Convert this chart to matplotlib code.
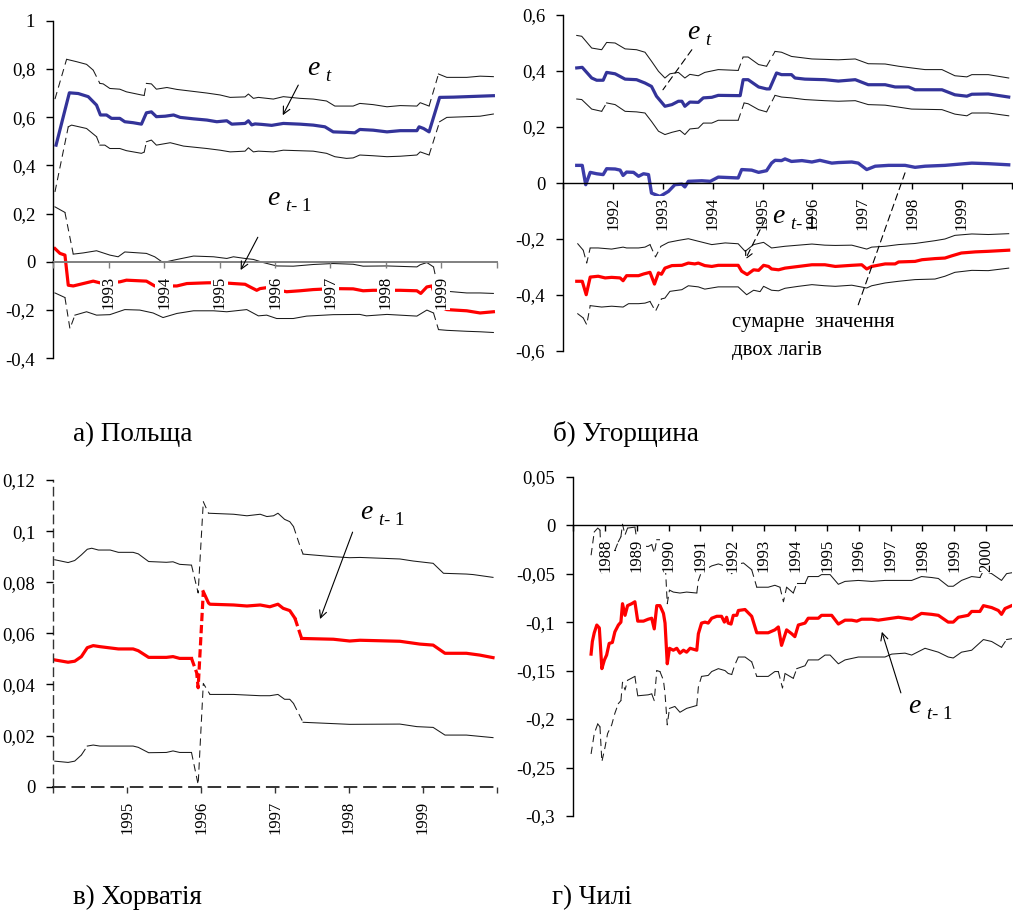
import matplotlib
matplotlib.use('Agg')
import matplotlib.pyplot as plt

plt.rcParams['font.family'] = ['Liberation Serif', 'DejaVu Serif']
plt.rcParams['mathtext.fontset'] = 'custom'
plt.rcParams['mathtext.it'] = 'Liberation Serif:italic'
plt.rcParams['mathtext.rm'] = 'Liberation Serif'

W, H, DPI = 1013, 910, 100

# ---------------- data: (decimal year, value) ----------------
# а) Польща
a_et = [(1992.05, 0.484), (1992.21, 0.629), (1992.29, 0.701), (1992.45, 0.698), (1992.63, 0.685),
        (1992.78, 0.650), (1992.85, 0.609), (1992.96, 0.609), (1993.05, 0.595), (1993.20, 0.595),
        (1993.29, 0.581), (1993.44, 0.577), (1993.59, 0.571), (1993.68, 0.618), (1993.77, 0.622),
        (1993.86, 0.602), (1994.02, 0.604), (1994.17, 0.609), (1994.29, 0.599), (1994.53, 0.593),
        (1994.77, 0.588), (1994.95, 0.581), (1995.13, 0.585), (1995.22, 0.571), (1995.46, 0.574),
        (1995.52, 0.585), (1995.58, 0.568), (1995.64, 0.572), (1995.76, 0.570), (1995.94, 0.566),
        (1996.15, 0.574), (1996.45, 0.571), (1996.69, 0.567), (1996.90, 0.560), (1997.05, 0.539),
        (1997.29, 0.537), (1997.44, 0.535), (1997.53, 0.549), (1997.77, 0.546), (1998.02, 0.539),
        (1998.26, 0.544), (1998.56, 0.544), (1998.60, 0.560), (1998.68, 0.553), (1998.78, 0.539),
        (1998.97, 0.682), (1999.22, 0.683), (1999.46, 0.685), (1999.70, 0.687), (1999.94, 0.689)]
a_et_up = [(1992.03, 0.675), (1992.24, 0.840), (1992.42, 0.830), (1992.60, 0.819), (1992.72, 0.795),
           (1992.84, 0.740), (1992.90, 0.738), (1993.02, 0.719), (1993.20, 0.716), (1993.32, 0.705),
           (1993.59, 0.692), (1993.64, 0.690), (1993.68, 0.740), (1993.77, 0.738), (1993.86, 0.716),
           (1994.05, 0.723), (1994.23, 0.715), (1994.41, 0.710), (1994.77, 0.700), (1995.01, 0.692),
           (1995.19, 0.682), (1995.46, 0.684), (1995.52, 0.696), (1995.61, 0.678), (1995.70, 0.682),
           (1995.97, 0.675), (1996.15, 0.685), (1996.45, 0.678), (1996.69, 0.675), (1996.93, 0.667),
           (1997.08, 0.646), (1997.41, 0.646), (1997.53, 0.657), (1997.77, 0.652), (1998.02, 0.643),
           (1998.26, 0.648), (1998.56, 0.646), (1998.62, 0.660), (1998.78, 0.646), (1998.95, 0.779),
           (1999.10, 0.765), (1999.46, 0.765), (1999.70, 0.770), (1999.94, 0.768)]
a_et_lo = [(1992.03, 0.290), (1992.27, 0.560), (1992.33, 0.567), (1992.60, 0.553), (1992.78, 0.519),
           (1992.84, 0.484), (1992.93, 0.484), (1993.02, 0.470), (1993.20, 0.470), (1993.32, 0.461),
           (1993.59, 0.450), (1993.64, 0.455), (1993.68, 0.498), (1993.77, 0.505), (1993.86, 0.484),
           (1994.11, 0.494), (1994.35, 0.480), (1994.77, 0.470), (1995.01, 0.463), (1995.19, 0.456),
           (1995.46, 0.459), (1995.52, 0.473), (1995.61, 0.456), (1995.70, 0.459), (1995.97, 0.456),
           (1996.15, 0.463), (1996.69, 0.459), (1996.93, 0.450), (1997.08, 0.436), (1997.29, 0.429),
           (1997.41, 0.431), (1997.53, 0.443), (1997.77, 0.440), (1998.02, 0.436), (1998.26, 0.438),
           (1998.56, 0.443), (1998.62, 0.456), (1998.78, 0.443), (1998.97, 0.581), (1999.10, 0.599),
           (1999.46, 0.602), (1999.70, 0.604), (1999.94, 0.613)]
a_et1 = [(1992.03, 0.055), (1992.12, 0.035), (1992.21, 0.028), (1992.27, -0.097), (1992.36, -0.100),
         (1992.54, -0.090), (1992.72, -0.080), (1992.84, -0.087), (1993.20, -0.083), (1993.32, -0.076),
         (1993.68, -0.080), (1993.83, -0.100), (1994.23, -0.100), (1994.41, -0.090), (1994.77, -0.087),
         (1995.01, -0.086), (1995.25, -0.090), (1995.46, -0.093), (1995.55, -0.104), (1995.67, -0.118),
         (1995.73, -0.111), (1995.85, -0.107), (1996.21, -0.124), (1996.45, -0.120), (1996.69, -0.115),
         (1997.05, -0.111), (1997.41, -0.112), (1997.59, -0.120), (1997.77, -0.118), (1998.26, -0.118),
         (1998.56, -0.120), (1998.63, -0.131), (1998.74, -0.104), (1998.83, -0.100), (1998.95, -0.184),
         (1999.10, -0.198), (1999.46, -0.203), (1999.70, -0.212), (1999.94, -0.207)]
a_et1_up = [(1992.03, 0.228), (1992.21, 0.205), (1992.36, 0.032), (1992.54, 0.037), (1992.78, 0.046),
            (1993.02, 0.028), (1993.17, 0.021), (1993.29, 0.041), (1993.68, 0.035), (1993.83, 0.021),
            (1993.98, -0.003), (1994.17, 0.007), (1994.53, 0.024), (1994.89, 0.021), (1995.13, 0.014),
            (1995.25, 0.021), (1995.46, 0.014), (1995.61, 0.010), (1995.79, -0.003), (1996.03, -0.017),
            (1996.33, -0.018), (1996.69, -0.011), (1997.05, -0.007), (1997.41, -0.010), (1997.59, -0.018),
            (1998.02, -0.017), (1998.56, -0.021), (1998.62, -0.012), (1998.74, -0.003), (1998.86, -0.021),
            (1998.95, -0.118), (1999.10, -0.122), (1999.46, -0.129), (1999.70, -0.129), (1999.94, -0.131)]
a_et1_lo = [(1992.03, -0.129), (1992.21, -0.148), (1992.30, -0.277), (1992.39, -0.221), (1992.60, -0.207),
            (1992.78, -0.221), (1993.02, -0.219), (1993.29, -0.198), (1993.56, -0.200), (1993.80, -0.212),
            (1993.98, -0.231), (1994.23, -0.214), (1994.53, -0.203), (1994.89, -0.203), (1995.13, -0.207),
            (1995.49, -0.198), (1995.70, -0.224), (1995.85, -0.221), (1996.03, -0.235), (1996.33, -0.235),
            (1996.57, -0.225), (1997.05, -0.219), (1997.53, -0.218), (1997.65, -0.224), (1998.02, -0.218),
            (1998.56, -0.225), (1998.74, -0.200), (1998.86, -0.212), (1998.95, -0.281), (1999.10, -0.284),
            (1999.46, -0.288), (1999.70, -0.290), (1999.94, -0.293)]

# б) Угорщина
b_et = [(1991.27, 0.411), (1991.38, 0.413), (1991.57, 0.375), (1991.67, 0.367), (1991.80, 0.367),
        (1991.87, 0.395), (1992.04, 0.390), (1992.24, 0.371), (1992.47, 0.369), (1992.64, 0.357),
        (1992.77, 0.345), (1992.87, 0.310), (1993.04, 0.274), (1993.18, 0.280), (1993.31, 0.292),
        (1993.38, 0.292), (1993.44, 0.274), (1993.54, 0.289), (1993.71, 0.288), (1993.81, 0.304),
        (1993.98, 0.306), (1994.11, 0.313), (1994.55, 0.312), (1994.61, 0.369), (1994.71, 0.369),
        (1994.92, 0.343), (1995.08, 0.336), (1995.14, 0.336), (1995.28, 0.393), (1995.38, 0.387),
        (1995.58, 0.387), (1995.65, 0.375), (1995.85, 0.371), (1996.25, 0.369), (1996.52, 0.364),
        (1996.86, 0.369), (1997.12, 0.351), (1997.46, 0.351), (1997.66, 0.343), (1997.93, 0.343),
        (1998.06, 0.333), (1998.60, 0.333), (1998.86, 0.315), (1999.10, 0.310), (1999.20, 0.317),
        (1999.53, 0.318), (1999.94, 0.307)]
b_et_up = [(1991.27, 0.527), (1991.37, 0.524), (1991.57, 0.482), (1991.77, 0.476), (1991.87, 0.502),
           (1992.04, 0.500), (1992.24, 0.479), (1992.47, 0.476), (1992.64, 0.467), (1992.77, 0.435),
           (1992.91, 0.399), (1993.04, 0.375), (1993.14, 0.390), (1993.31, 0.395), (1993.44, 0.375),
           (1993.54, 0.388), (1993.71, 0.383), (1993.84, 0.395), (1994.11, 0.405), (1994.51, 0.402),
           (1994.61, 0.450), (1994.71, 0.450), (1994.92, 0.423), (1995.08, 0.417), (1995.25, 0.470),
           (1995.38, 0.467), (1995.58, 0.452), (1995.99, 0.443), (1996.52, 0.440), (1996.86, 0.443),
           (1997.12, 0.426), (1997.46, 0.425), (1997.73, 0.417), (1997.99, 0.411), (1998.26, 0.405),
           (1998.60, 0.405), (1998.86, 0.383), (1999.10, 0.379), (1999.20, 0.387), (1999.53, 0.387),
           (1999.94, 0.375)]
b_et_lo = [(1991.27, 0.300), (1991.37, 0.298), (1991.57, 0.264), (1991.77, 0.256), (1991.87, 0.286),
           (1992.04, 0.280), (1992.24, 0.256), (1992.47, 0.254), (1992.64, 0.250), (1992.77, 0.220),
           (1992.91, 0.185), (1993.04, 0.173), (1993.18, 0.181), (1993.34, 0.188), (1993.44, 0.173),
           (1993.54, 0.193), (1993.71, 0.196), (1993.81, 0.214), (1993.98, 0.214), (1994.11, 0.224),
           (1994.51, 0.224), (1994.63, 0.286), (1994.71, 0.283), (1994.92, 0.262), (1995.08, 0.254),
           (1995.25, 0.313), (1995.38, 0.307), (1995.58, 0.304), (1995.85, 0.298), (1996.25, 0.294),
           (1996.52, 0.292), (1996.86, 0.294), (1997.12, 0.280), (1997.46, 0.278), (1997.73, 0.271),
           (1997.99, 0.264), (1998.60, 0.262), (1998.86, 0.246), (1999.10, 0.240), (1999.20, 0.250),
           (1999.53, 0.250), (1999.94, 0.240)]
b_sum = [(1991.27, 0.063), (1991.38, 0.063), (1991.45, -0.006), (1991.54, 0.038), (1991.67, 0.033),
         (1991.80, 0.030), (1991.87, 0.051), (1992.04, 0.050), (1992.14, 0.046), (1992.20, 0.027),
         (1992.27, 0.039), (1992.41, 0.038), (1992.51, 0.024), (1992.61, 0.033), (1992.71, 0.030),
         (1992.77, -0.036), (1992.94, -0.048), (1993.11, -0.030), (1993.24, -0.006), (1993.38, -0.004),
         (1993.44, -0.014), (1993.51, 0.006), (1993.78, 0.008), (1993.95, 0.006), (1994.11, 0.021),
         (1994.51, 0.018), (1994.58, 0.048), (1994.78, 0.046), (1994.92, 0.038), (1995.08, 0.044),
         (1995.18, 0.071), (1995.25, 0.081), (1995.38, 0.080), (1995.45, 0.086), (1995.58, 0.077),
         (1995.79, 0.080), (1995.99, 0.075), (1996.15, 0.081), (1996.39, 0.071), (1996.52, 0.073),
         (1996.79, 0.075), (1996.92, 0.071), (1997.09, 0.048), (1997.26, 0.060), (1997.53, 0.063),
         (1997.86, 0.063), (1998.06, 0.056), (1998.26, 0.060), (1998.66, 0.063), (1998.99, 0.068),
         (1999.20, 0.071), (1999.53, 0.069), (1999.94, 0.065)]
b_et1 = [(1991.27, -0.351), (1991.38, -0.351), (1991.46, -0.399), (1991.54, -0.336), (1991.70, -0.333),
         (1991.84, -0.339), (1991.97, -0.337), (1992.14, -0.339), (1992.20, -0.349), (1992.27, -0.331),
         (1992.51, -0.331), (1992.61, -0.325), (1992.74, -0.319), (1992.83, -0.361), (1992.91, -0.321),
         (1992.97, -0.326), (1993.04, -0.304), (1993.18, -0.295), (1993.38, -0.294), (1993.51, -0.286),
         (1993.64, -0.289), (1993.71, -0.286), (1993.84, -0.295), (1993.98, -0.298), (1994.11, -0.294),
         (1994.51, -0.294), (1994.58, -0.315), (1994.69, -0.327), (1994.82, -0.310), (1994.92, -0.312),
         (1995.02, -0.294), (1995.12, -0.298), (1995.18, -0.307), (1995.32, -0.310), (1995.45, -0.304),
         (1995.72, -0.298), (1995.99, -0.292), (1996.25, -0.292), (1996.46, -0.298), (1996.79, -0.294),
         (1996.99, -0.292), (1997.09, -0.307), (1997.19, -0.298), (1997.46, -0.289), (1997.66, -0.289),
         (1997.73, -0.282), (1998.06, -0.280), (1998.20, -0.274), (1998.46, -0.270), (1998.66, -0.268),
         (1998.80, -0.260), (1998.99, -0.250), (1999.27, -0.246), (1999.53, -0.244), (1999.94, -0.240)]
b_et1_up = [(1991.29, -0.217), (1991.40, -0.240), (1991.47, -0.286), (1991.54, -0.232), (1991.70, -0.232),
            (1991.97, -0.236), (1992.20, -0.229), (1992.27, -0.232), (1992.51, -0.232), (1992.64, -0.229),
            (1992.74, -0.220), (1992.85, -0.264), (1992.96, -0.226), (1993.11, -0.212), (1993.31, -0.205),
            (1993.51, -0.199), (1993.71, -0.208), (1993.98, -0.220), (1994.25, -0.214), (1994.51, -0.217),
            (1994.65, -0.244), (1994.82, -0.220), (1995.02, -0.212), (1995.18, -0.232), (1995.45, -0.226),
            (1995.72, -0.222), (1995.99, -0.218), (1996.25, -0.222), (1996.46, -0.223), (1996.79, -0.222),
            (1997.09, -0.236), (1997.19, -0.229), (1997.46, -0.226), (1997.73, -0.220), (1998.06, -0.216),
            (1998.46, -0.206), (1998.66, -0.200), (1998.86, -0.187), (1999.20, -0.182), (1999.53, -0.184),
            (1999.94, -0.181)]
b_et1_lo = [(1991.29, -0.467), (1991.40, -0.482), (1991.47, -0.506), (1991.54, -0.438), (1991.77, -0.443),
            (1991.97, -0.440), (1992.20, -0.443), (1992.31, -0.431), (1992.51, -0.431), (1992.64, -0.429),
            (1992.74, -0.423), (1992.85, -0.458), (1992.97, -0.414), (1993.04, -0.411), (1993.14, -0.387),
            (1993.38, -0.381), (1993.51, -0.367), (1993.71, -0.371), (1993.84, -0.379), (1994.11, -0.371),
            (1994.51, -0.371), (1994.68, -0.399), (1994.82, -0.383), (1994.95, -0.388), (1995.02, -0.369),
            (1995.18, -0.383), (1995.32, -0.385), (1995.45, -0.376), (1995.72, -0.369), (1995.99, -0.363),
            (1996.25, -0.367), (1996.46, -0.369), (1996.79, -0.365), (1997.09, -0.375), (1997.19, -0.367),
            (1997.46, -0.357), (1997.73, -0.351), (1998.06, -0.345), (1998.46, -0.343), (1998.66, -0.333),
            (1998.86, -0.319), (1999.20, -0.312), (1999.53, -0.313), (1999.94, -0.304)]

# в) Хорватія
c_et1 = [(1994.02, 0.0496), (1994.20, 0.0487), (1994.29, 0.0491), (1994.38, 0.0509), (1994.46, 0.0544),
         (1994.54, 0.0552), (1994.63, 0.0548), (1994.88, 0.0539), (1995.08, 0.0539), (1995.15, 0.0532),
         (1995.29, 0.0506), (1995.53, 0.0506), (1995.62, 0.0509), (1995.71, 0.0502), (1995.87, 0.0502),
         (1995.94, 0.0446), (1995.96, 0.0387), (1996.03, 0.0763), (1996.10, 0.0719), (1996.12, 0.0714),
         (1996.44, 0.0711), (1996.62, 0.0707), (1996.80, 0.0711), (1996.93, 0.0704), (1997.04, 0.0714),
         (1997.11, 0.0698), (1997.20, 0.0689), (1997.27, 0.0659), (1997.36, 0.0580), (1997.79, 0.0577),
         (1998.01, 0.0570), (1998.15, 0.0573), (1998.69, 0.0569), (1998.96, 0.0558), (1999.14, 0.0554),
         (1999.30, 0.0522), (1999.59, 0.0522), (1999.77, 0.0515), (1999.95, 0.0505)]
c_et1_up = [(1994.02, 0.0888), (1994.20, 0.0877), (1994.29, 0.0885), (1994.38, 0.0907), (1994.46, 0.0929),
            (1994.52, 0.0933), (1994.61, 0.0926), (1994.77, 0.0926), (1994.88, 0.0917), (1995.08, 0.0917),
            (1995.15, 0.0911), (1995.29, 0.0881), (1995.53, 0.0878), (1995.62, 0.0880), (1995.71, 0.0870),
            (1995.87, 0.0867), (1995.96, 0.0758), (1996.03, 0.1115), (1996.10, 0.1070), (1996.44, 0.1066),
            (1996.62, 0.1060), (1996.80, 0.1066), (1996.89, 0.1057), (1996.98, 0.1060), (1997.04, 0.1070),
            (1997.13, 0.1046), (1997.20, 0.1037), (1997.25, 0.1018), (1997.34, 0.0940), (1997.38, 0.0910),
            (1997.79, 0.0900), (1998.01, 0.0896), (1998.15, 0.0897), (1998.69, 0.0891), (1998.87, 0.0883),
            (1999.14, 0.0874), (1999.28, 0.0835), (1999.59, 0.0832), (1999.68, 0.0830), (1999.95, 0.0819)]
c_et1_lo = [(1994.02, 0.0100), (1994.20, 0.0095), (1994.29, 0.0100), (1994.38, 0.0124), (1994.46, 0.0159),
            (1994.54, 0.0163), (1994.63, 0.0159), (1994.88, 0.0159), (1995.08, 0.0159), (1995.15, 0.0154),
            (1995.29, 0.0133), (1995.53, 0.0134), (1995.62, 0.0140), (1995.71, 0.0134), (1995.87, 0.0134),
            (1995.96, 0.0008), (1996.03, 0.0404), (1996.12, 0.0361), (1996.44, 0.0361), (1996.80, 0.0356),
            (1996.93, 0.0356), (1997.04, 0.0361), (1997.13, 0.0342), (1997.20, 0.0342), (1997.25, 0.0326),
            (1997.33, 0.0280), (1997.38, 0.0252), (1998.01, 0.0244), (1998.69, 0.0245), (1998.92, 0.0235),
            (1999.14, 0.0232), (1999.30, 0.0202), (1999.59, 0.0202), (1999.95, 0.0192)]

# г) Чилі
d_et1 = [(1987.56, -0.133), (1987.60, -0.120), (1987.66, -0.111), (1987.74, -0.103), (1987.82, -0.106),
         (1987.90, -0.148), (1987.98, -0.139), (1988.05, -0.134), (1988.13, -0.122), (1988.23, -0.121),
         (1988.31, -0.110), (1988.42, -0.103), (1988.50, -0.100), (1988.55, -0.081), (1988.63, -0.093),
         (1988.71, -0.083), (1988.84, -0.081), (1988.94, -0.079), (1989.03, -0.099), (1989.21, -0.099),
         (1989.36, -0.097), (1989.47, -0.096), (1989.55, -0.107), (1989.63, -0.083), (1989.73, -0.083),
         (1989.84, -0.091), (1989.89, -0.101), (1989.96, -0.143), (1990.03, -0.127), (1990.15, -0.129),
         (1990.26, -0.127), (1990.36, -0.132), (1990.47, -0.129), (1990.57, -0.131), (1990.68, -0.127),
         (1990.89, -0.129), (1990.94, -0.112), (1991.04, -0.101), (1991.15, -0.100), (1991.25, -0.101),
         (1991.36, -0.096), (1991.52, -0.094), (1991.67, -0.094), (1991.76, -0.100), (1991.83, -0.095),
         (1991.88, -0.101), (1991.97, -0.102), (1992.04, -0.093), (1992.15, -0.093), (1992.20, -0.088),
         (1992.41, -0.087), (1992.62, -0.094), (1992.78, -0.111), (1992.93, -0.111), (1993.14, -0.111),
         (1993.35, -0.108), (1993.46, -0.105), (1993.56, -0.124), (1993.72, -0.108), (1993.88, -0.112),
         (1993.98, -0.115), (1994.09, -0.103), (1994.30, -0.101), (1994.40, -0.096), (1994.72, -0.096),
         (1994.82, -0.093), (1995.14, -0.093), (1995.35, -0.102), (1995.56, -0.098), (1995.77, -0.098),
         (1995.93, -0.099), (1996.08, -0.097), (1996.40, -0.097), (1996.61, -0.098), (1997.03, -0.096),
         (1997.24, -0.095), (1997.45, -0.096), (1997.66, -0.097), (1997.97, -0.091), (1998.29, -0.092),
         (1998.50, -0.093), (1998.81, -0.100), (1998.97, -0.100), (1999.13, -0.095), (1999.44, -0.093),
         (1999.55, -0.089), (1999.81, -0.089), (1999.92, -0.083), (2000.18, -0.085), (2000.39, -0.088),
         (2000.49, -0.092), (2000.60, -0.086), (2000.81, -0.083)]
d_et1_up = [(1987.56, -0.031), (1987.66, -0.007), (1987.77, -0.003), (1987.84, -0.005), (1987.90, -0.050),
            (1988.00, -0.036), (1988.10, -0.026), (1988.31, -0.026), (1988.42, -0.017), (1988.50, -0.012),
            (1988.55, 0.001), (1988.63, -0.010), (1988.71, -0.003), (1988.94, -0.002), (1989.03, -0.021),
            (1989.36, -0.022), (1989.47, -0.020), (1989.55, -0.029), (1989.63, -0.015), (1989.73, -0.015),
            (1989.84, -0.019), (1989.89, -0.036), (1989.96, -0.081), (1990.03, -0.067), (1990.15, -0.069),
            (1990.36, -0.070), (1990.57, -0.069), (1990.89, -0.070), (1990.94, -0.057), (1991.04, -0.048),
            (1991.15, -0.046), (1991.36, -0.042), (1991.57, -0.040), (1991.67, -0.041), (1991.83, -0.043),
            (1991.99, -0.050), (1992.09, -0.043), (1992.20, -0.040), (1992.36, -0.039), (1992.62, -0.046),
            (1992.78, -0.064), (1993.14, -0.064), (1993.35, -0.062), (1993.51, -0.064), (1993.62, -0.079),
            (1993.72, -0.064), (1993.93, -0.070), (1994.04, -0.060), (1994.30, -0.060), (1994.40, -0.053),
            (1994.72, -0.053), (1994.82, -0.051), (1995.09, -0.051), (1995.35, -0.061), (1995.56, -0.058),
            (1995.98, -0.057), (1996.40, -0.058), (1996.82, -0.057), (1997.24, -0.057), (1997.66, -0.057),
            (1997.97, -0.053), (1998.29, -0.054), (1998.50, -0.055), (1998.81, -0.063), (1998.97, -0.063),
            (1999.23, -0.057), (1999.55, -0.053), (1999.81, -0.054), (1999.92, -0.047), (2000.18, -0.050),
            (2000.49, -0.057), (2000.65, -0.050), (2000.83, -0.049)]
d_et1_lo = [(1987.56, -0.236), (1987.66, -0.215), (1987.77, -0.205), (1987.84, -0.208), (1987.90, -0.244),
            (1988.00, -0.229), (1988.08, -0.215), (1988.21, -0.206), (1988.31, -0.194), (1988.42, -0.184),
            (1988.50, -0.181), (1988.55, -0.162), (1988.63, -0.170), (1988.71, -0.160), (1988.94, -0.156),
            (1989.03, -0.176), (1989.36, -0.175), (1989.47, -0.174), (1989.55, -0.181), (1989.63, -0.150),
            (1989.73, -0.151), (1989.84, -0.160), (1989.89, -0.174), (1989.96, -0.206), (1990.03, -0.189),
            (1990.20, -0.187), (1990.36, -0.193), (1990.57, -0.189), (1990.89, -0.186), (1990.94, -0.167),
            (1991.04, -0.156), (1991.25, -0.155), (1991.36, -0.151), (1991.57, -0.148), (1991.78, -0.150),
            (1991.88, -0.153), (1991.99, -0.154), (1992.09, -0.144), (1992.20, -0.136), (1992.41, -0.136),
            (1992.62, -0.141), (1992.78, -0.156), (1993.14, -0.156), (1993.35, -0.151), (1993.46, -0.151),
            (1993.59, -0.168), (1993.67, -0.153), (1993.93, -0.158), (1994.04, -0.148), (1994.30, -0.145),
            (1994.40, -0.139), (1994.72, -0.139), (1994.93, -0.134), (1995.09, -0.134), (1995.35, -0.143),
            (1995.56, -0.139), (1995.98, -0.136), (1996.40, -0.136), (1996.82, -0.136), (1997.03, -0.133),
            (1997.45, -0.132), (1997.66, -0.134), (1998.08, -0.127), (1998.50, -0.131), (1998.81, -0.136),
            (1998.97, -0.137), (1999.23, -0.131), (1999.55, -0.129), (1999.92, -0.118), (2000.18, -0.120),
            (2000.49, -0.126), (2000.65, -0.118), (2000.83, -0.117)]

# ---------------- ticks & labels ----------------
a_years = list(range(1992, 2001))
a_year_labels = [''] + [str(y) for y in range(1993, 2000)] + ['']
a_yticks = [1.0, 0.8, 0.6, 0.4, 0.2, 0.0, -0.2, -0.4]
a_ylabels = ['1', '0,8', '0,6', '0,4', '0,2', '0', '-0,2', '-0,4']

b_years = list(range(1991, 2001))
b_year_labels = [''] + [str(y) for y in range(1992, 2000)] + ['']
b_yticks = [0.6, 0.4, 0.2, 0.0, -0.2, -0.4, -0.6]
b_ylabels = ['0,6', '0,4', '0,2', '0', '-0,2', '-0,4', '-0,6']

c_years = list(range(1994, 2001))
c_year_labels = [''] + [str(y) for y in range(1995, 2000)] + ['']
c_yticks = [0.12, 0.10, 0.08, 0.06, 0.04, 0.02, 0.0]
c_ylabels = ['0,12', '0,1', '0,08', '0,06', '0,04', '0,02', '0']

d_years = list(range(1987, 2001))
d_year_labels = [''] + [str(y) for y in range(1988, 2001)]
d_yticks = [0.05, 0.0, -0.05, -0.10, -0.15, -0.20, -0.25, -0.30]
d_ylabels = ['0,05', '0', '-0,05', '-0,1', '-0,15', '-0,2', '-0,25', '-0,3']

captions = ['а) Польща', 'б) Угорщина', 'в) Хорватія', 'г) Чилі']

# ---------------- styling ----------------
BLUE = '#333399'
SUMBLUE = '#3b3ba8'
RED = '#ff0000'
BLK = '#1a1a1a'
THIN = 0.75
THICK = 2.3

fig = plt.figure(figsize=(W / DPI, H / DPI), dpi=DPI)
fig.patch.set_facecolor('white')


def make_axes(l, t, r, b, xlim, ylim):
    ax = fig.add_axes([l / W, 1 - b / H, (r - l) / W, (b - t) / H])
    ax.set_xlim(*xlim)
    ax.set_ylim(*ylim)
    ax.patch.set_alpha(0)
    ax.spines['top'].set_visible(False)
    ax.spines['right'].set_visible(False)
    ax.set_axisbelow(False)
    return ax


def draw(ax, pts, color, lw, steep_dash=True, dashes=(7, 4.5), ratio=1.5, zorder=2, **kw):
    xs = [p[0] for p in pts]
    ys = [p[1] for p in pts]
    if not steep_dash:
        ax.plot(xs, ys, color=color, lw=lw, zorder=zorder, solid_joinstyle='round', **kw)
        return
    bb = ax.get_position()
    x0, x1 = ax.get_xlim()
    y0, y1 = ax.get_ylim()
    sx = bb.width * W / (x1 - x0)
    sy = bb.height * H / (y1 - y0)
    steep = []
    for i in range(len(xs) - 1):
        dx = abs(xs[i + 1] - xs[i]) * sx
        dy = abs(ys[i + 1] - ys[i]) * sy
        steep.append(dy > ratio * dx and dy > 6)
    i = 0
    while i < len(steep):
        j = i
        while j + 1 < len(steep) and steep[j + 1] == steep[i]:
            j += 1
        sxs = xs[i:j + 2]
        sys_ = ys[i:j + 2]
        if steep[i]:
            ax.plot(sxs, sys_, color=color, lw=lw, dashes=dashes, zorder=zorder)
        else:
            ax.plot(sxs, sys_, color=color, lw=lw, zorder=zorder, solid_joinstyle='round')
        i = j + 1


def style(ax, yticks, ylabels, years, ylabs, axis_color='black', at_zero=True):
    ax.spines['left'].set_color('black')
    ax.spines['left'].set_linewidth(1.0)
    if at_zero:
        ax.spines['bottom'].set_position(('data', 0))
    ax.spines['bottom'].set_color(axis_color)
    ax.spines['bottom'].set_linewidth(1.4 if axis_color != 'black' else 1.0)
    ax.set_yticks(yticks)
    ax.set_yticklabels(ylabels)
    ax.tick_params(axis='y', direction='out', length=5, width=1, pad=8, labelsize=13.5, colors='black')
    ax.set_xticks(years)
    ax.set_xticklabels(ylabs, rotation=90)
    ax.tick_params(axis='x', direction='out', length=4, width=1, pad=6, labelsize=12,
                   color=axis_color, labelcolor='black')
    for lab in ax.get_xticklabels():
        if lab.get_text():
            lab.set_bbox(dict(facecolor='white', edgecolor='none', pad=0.6))


def elabel(ax, x, y, sub, esize=20, ssize=13.5, dx=13, dy=-4.5):
    ax.text(x, y, 'e', fontsize=esize, fontstyle='italic', va='baseline', ha='left', zorder=5)
    ax.annotate(sub, xy=(x, y), xytext=(dx, dy), textcoords='offset points',
                fontsize=ssize, va='baseline', ha='left', zorder=5)


def arrow(ax, start, end, dashed=False, head=True):
    props = dict(arrowstyle='->' if head else '-', color='black', lw=0.8,
                 shrinkA=0, shrinkB=0, mutation_scale=13)
    if dashed:
        props['linestyle'] = (0, (6, 4))
    ax.annotate('', xy=end, xytext=start, arrowprops=props, zorder=5)


# ---- а) Польща ----
axA = make_axes(53.3, 20.7, 496.7, 358.3, (1992, 2000), (-0.4, 1.0))
style(axA, a_yticks, a_ylabels, a_years, a_year_labels, axis_color='#808080')
draw(axA, a_et_up, BLK, THIN)
draw(axA, a_et_lo, BLK, THIN)
draw(axA, a_et1_up, BLK, THIN)
draw(axA, a_et1_lo, BLK, THIN)
draw(axA, a_et, BLUE, THICK, steep_dash=False)
draw(axA, a_et1, RED, THICK, steep_dash=False)
elabel(axA, 1996.58, 0.775, '$t$')
arrow(axA, (1996.42, 0.733), (1996.14, 0.608))
elabel(axA, 1995.85, 0.235, '$t$- 1')
arrow(axA, (1995.69, 0.102), (1995.38, -0.034))

# ---- б) Угорщина ----
axB = make_axes(563.3, 15, 1011.7, 351, (1991, 2000), (-0.6, 0.6))
style(axB, b_yticks, b_ylabels, b_years, b_year_labels)
draw(axB, b_et_up, BLK, THIN)
draw(axB, b_et_lo, BLK, THIN)
draw(axB, b_et1_up, BLK, THIN)
draw(axB, b_et1_lo, BLK, THIN)
draw(axB, b_et, BLUE, THICK, steep_dash=False)
draw(axB, b_sum, SUMBLUE, 2.4, steep_dash=False, dashes=(1.2, 0.45))
draw(axB, b_et1, RED, THICK, steep_dash=False)
elabel(axB, 1993.48, 0.516, '$t$')
arrow(axB, (1993.58, 0.476), (1993.00, 0.333), dashed=True, head=False)
elabel(axB, 1995.19, -0.142, '$t$- 1')
arrow(axB, (1995.05, -0.131), (1994.65, -0.274), dashed=True)
axB.text(1994.39, -0.513, 'сумарне  значення', fontsize=15, va='baseline', ha='left')
axB.text(1994.39, -0.613, 'двох лагів', fontsize=15, va='baseline', ha='left')
arrow(axB, (1996.92, -0.435), (1997.86, 0.037), dashed=True, head=False)

# ---- в) Хорватія ----
axC = make_axes(53.3, 480, 496.7, 786.7, (1994, 2000), (0, 0.12))
style(axC, c_yticks, c_ylabels, c_years, c_year_labels, axis_color='#333333', at_zero=False)
for s in ('left', 'bottom'):
    axC.spines[s].set_linestyle((0, (6, 4)))
    axC.spines[s].set_color('#333333')
draw(axC, c_et1_up, BLK, THIN)
draw(axC, c_et1_lo, BLK, THIN)
draw(axC, c_et1, RED, THICK, dashes=(2.6, 1.2), ratio=2.2)
elabel(axC, 1998.15, 0.1048, '$t$- 1')
arrow(axC, (1998.05, 0.0996), (1997.61, 0.0656))

# ---- г) Чилі ----
axD = make_axes(573.3, 476.7, 1012.3, 816, (1987, 2000.83), (-0.3, 0.05))
style(axD, d_yticks, d_ylabels, d_years, d_year_labels)
draw(axD, d_et1_up, BLK, THIN)
draw(axD, d_et1_lo, BLK, THIN)
draw(axD, d_et1, RED, THICK, steep_dash=False)
elabel(axD, 1997.54, -0.194, '$t$- 1')
arrow(axD, (1997.32, -0.173), (1996.72, -0.110))

# ---- captions ----
cap_pos = [(73, 441), (553, 441), (73, 904), (552, 904)]
for txt, (px, py) in zip(captions, cap_pos):
    fig.text(px / W, 1 - py / H, txt, fontsize=19.5, va='baseline', ha='left')

fig.savefig('out.png', dpi=DPI)
